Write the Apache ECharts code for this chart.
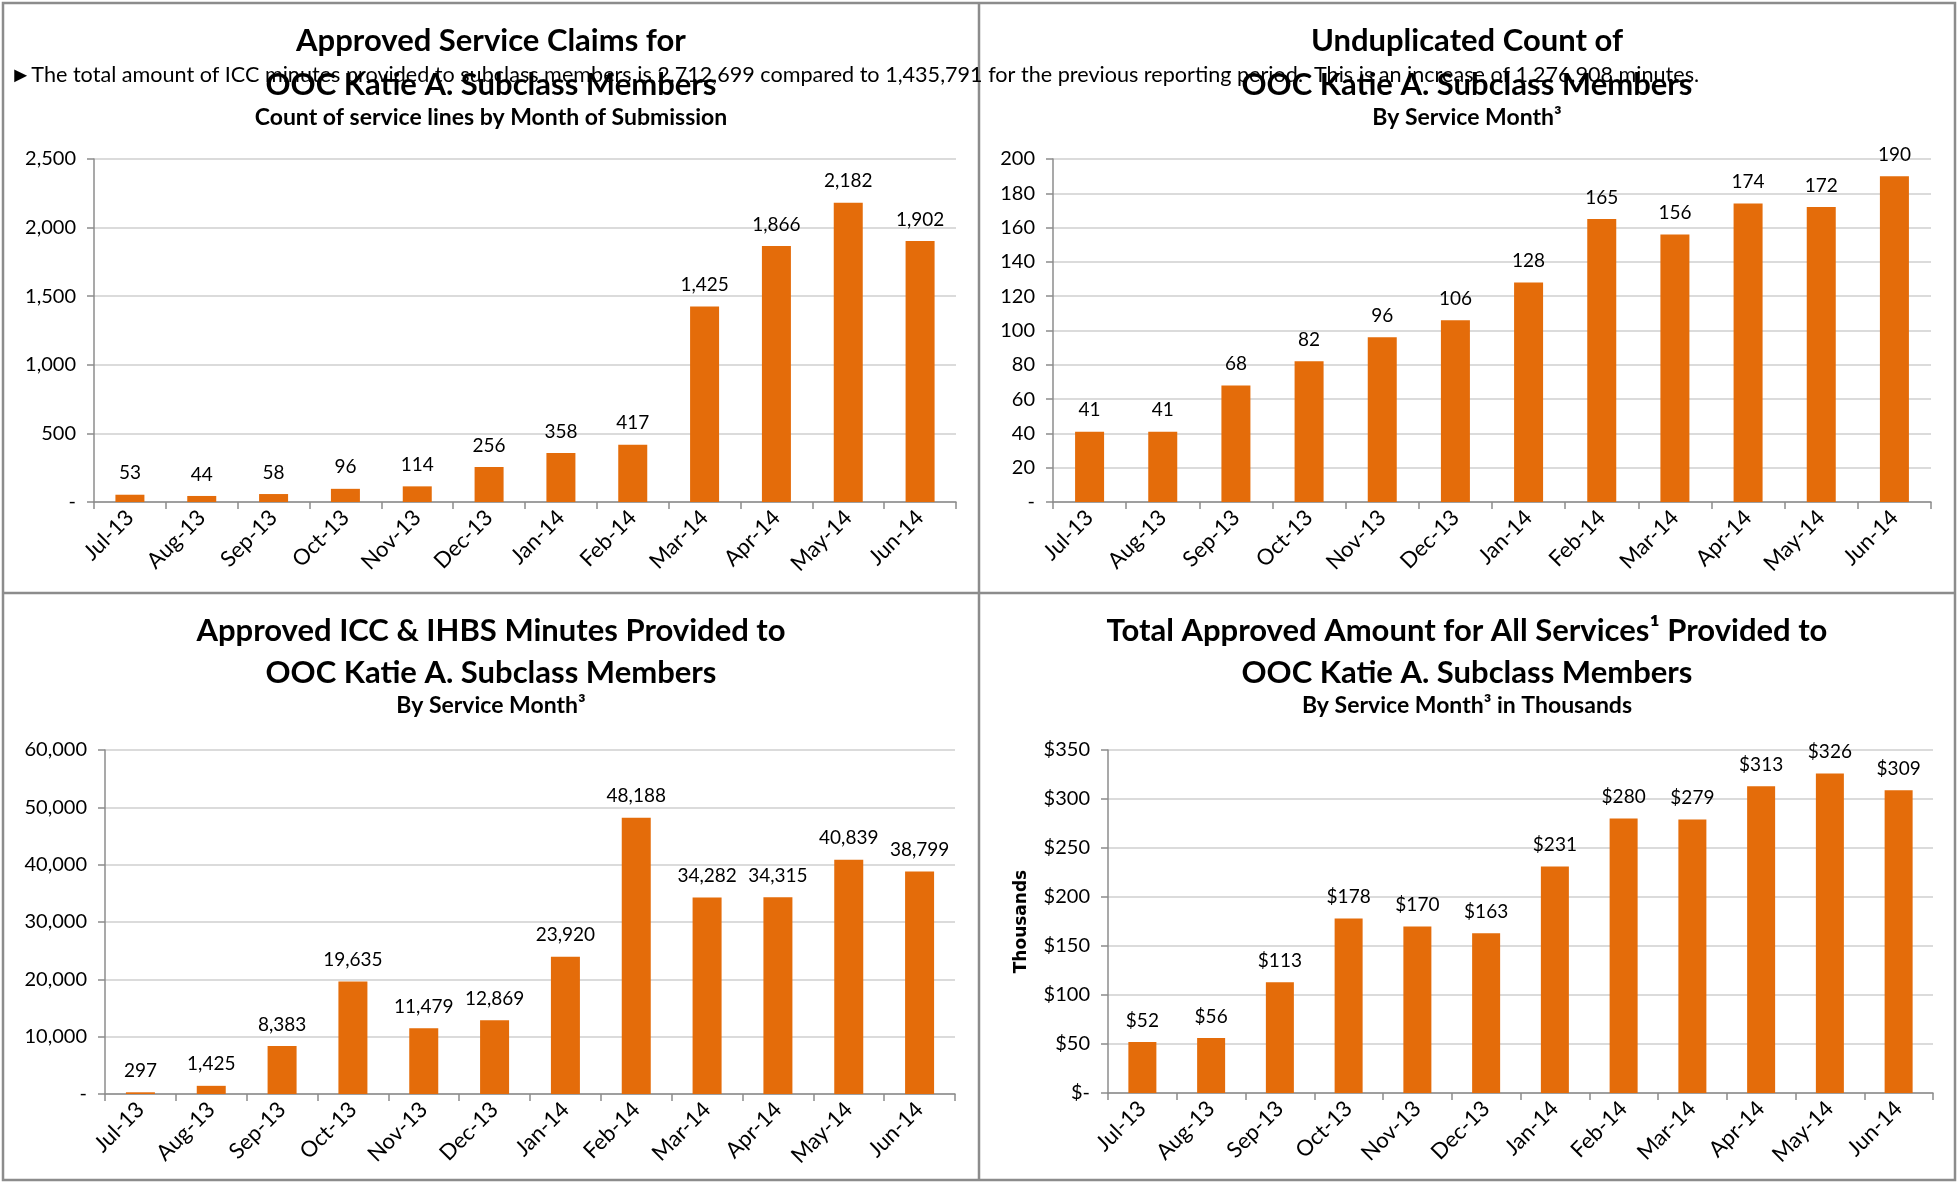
<!DOCTYPE html>
<html>
<head>
<meta charset="utf-8">
<title>OOC Katie A. Subclass Members</title>
<script src="https://cdn.jsdelivr.net/npm/echarts@6/dist/echarts.min.js"></script>
<style>
  html, body { margin: 0; padding: 0; background: #fff; }
  #main { width: 1957px; height: 1183px; }
</style>
</head>
<body>
<div id="main"></div>
<script>
// 数据
const months = ['Jul-13', 'Aug-13', 'Sep-13', 'Oct-13', 'Nov-13', 'Dec-13', 'Jan-14', 'Feb-14', 'Mar-14', 'Apr-14', 'May-14', 'Jun-14']
const claimLines = [53, 44, 58, 96, 114, 256, 358, 417, 1425, 1866, 2182, 1902]
const memberCount = [41, 41, 68, 82, 96, 106, 128, 165, 156, 174, 172, 190]
const iccMinutes = [297, 1425, 8383, 19635, 11479, 12869, 23920, 48188, 34282, 34315, 40839, 38799]
const amountThousands = [52, 56, 113, 178, 170, 163, 231, 280, 279, 313, 326, 309]

const claimTicks = [0, 500, 1000, 1500, 2000, 2500]
const memberTicks = [0, 20, 40, 60, 80, 100, 120, 140, 160, 180, 200]
const minuteTicks = [0, 10000, 20000, 30000, 40000, 50000, 60000]
const amountTicks = [0, 50, 100, 150, 200, 250, 300, 350]

const noteText = '\u25BAThe total amount of ICC minutes provided to subclass members is 2,712,699 compared to 1,435,791 for the previous reporting period.  This is an increase of 1,276,908 minutes.'

const FONT = 'Lato, "Open Sans", sans-serif'
const ORANGE = '#E46C0A'

const fmtNum = v => v === 0 ? '-' : v.toLocaleString('en-US')
const fmtDollar = v => v === 0 ? '$-' : '$' + v.toLocaleString('en-US')

/* 四个图表的位置 */
const grids = [
  { left: 94, top: 159, width: 862, height: 343 },
  { left: 1053, top: 159, width: 878, height: 343 },
  { left: 105, top: 750, width: 850, height: 344 },
  { left: 1108, top: 750, width: 825, height: 343 }
]

function xAxisOf(i){
  return {
    type: 'category',
    gridIndex: i,
    data: months,
    axisLine: { lineStyle: { color: '#8c8c8c', width: 1.5 } },
    axisTick: { show: true, length: 7, lineStyle: { color: '#8c8c8c', width: 1.5 } },
    axisLabel: { rotate: 45, margin: 12, fontSize: 22, color: '#000', fontFamily: FONT }
  }
}

function yAxisOf(i, ticks, fmt, extra){
  const step = ticks[1] - ticks[0]
  return Object.assign({
    type: 'value',
    gridIndex: i,
    min: ticks[0],
    max: ticks[ticks.length - 1],
    interval: step,
    axisLine: { show: true, lineStyle: { color: '#8c8c8c', width: 1.5 } },
    axisTick: { show: true, length: 7, lineStyle: { color: '#8c8c8c', width: 1.5 } },
    splitLine: { lineStyle: { color: '#cfcfcf', width: 1.5 } },
    axisLabel: { margin: 18, fontSize: 20, color: '#000', fontFamily: FONT, formatter: fmt }
  }, extra || {})
}

function barOf(i, data, fmt, width){
  return {
    type: 'bar',
    xAxisIndex: i,
    yAxisIndex: i,
    data: data,
    barWidth: width,
    itemStyle: { color: ORANGE },
    label: {
      show: true,
      position: 'top',
      distance: 12,
      fontSize: 19,
      color: '#000',
      fontFamily: FONT,
      formatter: p => fmt(p.value)
    }
  }
}

function titleLines(cx, ys, lines){
  return lines.map((t, k) => ({
    type: 'text',
    z: 10,
    style: {
      text: t.text,
      x: cx,
      y: ys[k],
      textAlign: 'center',
      textVerticalAlign: 'middle',
      fill: '#000',
      font: 'bold ' + t.size + 'px ' + FONT
    }
  }))
}

const border = { stroke: '#8c8c8c', lineWidth: 2.5 }

const initOption = {
  backgroundColor: '#fff',
  animation: false,
  grid: grids,
  xAxis: [0, 1, 2, 3].map(xAxisOf),
  yAxis: [
    yAxisOf(0, claimTicks, fmtNum),
    yAxisOf(1, memberTicks, fmtNum),
    yAxisOf(2, minuteTicks, fmtNum),
    yAxisOf(3, amountTicks, fmtDollar, {
      name: 'Thousands',
      nameLocation: 'middle',
      nameGap: 78,
      nameRotate: 90,
      nameTextStyle: { fontSize: 17, fontWeight: 'bold', color: '#000', fontFamily: '"DejaVu Sans", Verdana, sans-serif' }
    })
  ],
  series: [
    barOf(0, claimLines, fmtNum, 29),
    barOf(1, memberCount, fmtNum, 29),
    barOf(2, iccMinutes, fmtNum, 29),
    barOf(3, amountThousands, fmtDollar, 28)
  ],
  graphic: [
    /* 边框 */
    { type: 'rect', shape: { x: 3, y: 3, width: 1952, height: 1177 }, style: Object.assign({ fill: null }, border) },
    { type: 'line', shape: { x1: 979, y1: 3, x2: 979, y2: 1180 }, style: border },
    { type: 'line', shape: { x1: 3, y1: 593, x2: 1955, y2: 593 }, style: border },
    /* 说明文字 */
    {
      type: 'text',
      z: 5,
      style: {
        text: noteText,
        x: 10,
        y: 75,
        textVerticalAlign: 'middle',
        fill: '#000',
        font: '21.6px ' + FONT
      }
    },
    ...titleLines(491, [41, 85, 118], [
      { text: 'Approved Service Claims for', size: 31 },
      { text: 'OOC Katie A. Subclass Members', size: 31 },
      { text: 'Count of service lines by Month of Submission', size: 23 }
    ]),
    ...titleLines(1467, [41, 85, 118], [
      { text: 'Unduplicated Count of', size: 31 },
      { text: 'OOC Katie A. Subclass Members', size: 31 },
      { text: 'By Service Month\u00B3', size: 23 }
    ]),
    ...titleLines(491, [631, 673, 706], [
      { text: 'Approved ICC & IHBS Minutes Provided to', size: 31 },
      { text: 'OOC Katie A. Subclass Members', size: 31 },
      { text: 'By Service Month\u00B3', size: 23 }
    ]),
    ...titleLines(1467, [631, 673, 706], [
      { text: 'Total Approved Amount for All Services\u00B9 Provided to', size: 31 },
      { text: 'OOC Katie A. Subclass Members', size: 31 },
      { text: 'By Service Month\u00B3 in Thousands', size: 23 }
    ])
  ]
}

const chartInstance = echarts.init(document.getElementById('main'))
chartInstance.setOption(initOption)
</script>
</body>
</html>
